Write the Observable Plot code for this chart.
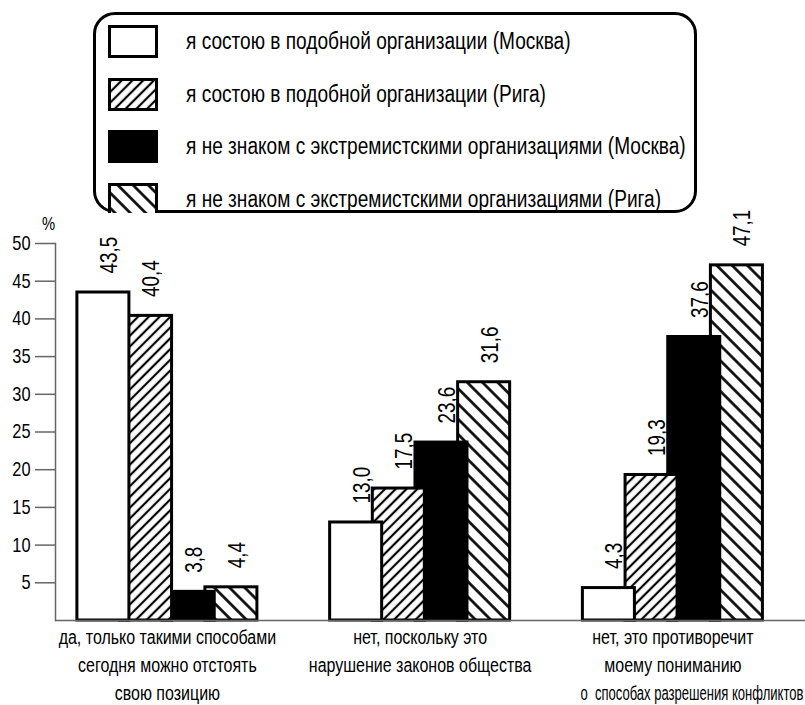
<!DOCTYPE html>
<html>
<head>
<meta charset="utf-8">
<script src="https://cdn.jsdelivr.net/npm/d3@7"></script>
<script src="https://cdn.jsdelivr.net/npm/@observablehq/plot@0.6"></script>
<style>
  html, body { margin: 0; padding: 0; background: #fff; }
  body { width: 805px; height: 705px; overflow: hidden; font-family: "Liberation Sans", Arial, sans-serif; }
  #legend { position: absolute; left: 93px; top: 12px; width: 604px; height: 201px; box-sizing: border-box;
            border: 3px solid #000; border-radius: 22px; background: #fff; }
  .row { position: absolute; left: 12px; height: 33px; display: flex; align-items: center; }
  .row svg { display: block; flex: none; }
  .row span { margin-left: 28px; font-size: 23px; color: #000; white-space: pre; display: inline-block;
              transform: scaleX(0.83); transform-origin: 0 50%; }
  #chart { position: absolute; left: 0; top: 213px; }
  #chart svg { display: block; overflow: visible; }
  #chart text { white-space: pre; }
</style>
</head>
<body>
<svg width="0" height="0" style="position:absolute">
  <defs>
    <pattern id="hatchA" patternUnits="userSpaceOnUse" width="7.6" height="7.6" patternTransform="rotate(45)">
      <rect width="7.6" height="7.6" fill="#fff"/>
      <line x1="3.8" y1="-1" x2="3.8" y2="8.6" stroke="#000" stroke-width="2.2"/>
    </pattern>
    <pattern id="hatchB" patternUnits="userSpaceOnUse" width="10.8" height="10.8" patternTransform="rotate(-45)">
      <rect width="10.8" height="10.8" fill="#fff"/>
      <line x1="5.4" y1="-1" x2="5.4" y2="11.8" stroke="#000" stroke-width="2.6"/>
    </pattern>
  </defs>
</svg>
<div id="legend"></div>
<div id="chart"></div>
<script>
// ---- data ----
const groups = [
  "да, только такими способами\nсегодня можно отстоять\nсвою позицию",
  "нет, поскольку это\nнарушение законов общества",
  "нет, это противоречит\nмоему пониманию\nо  способах разрешения конфликтов"
];
const seriesNames = [
  "я состою в подобной организации (Москва)",
  "я состою в подобной организации (Рига)",
  "я не знаком с экстремистскими организациями (Москва)",
  "я не знаком с экстремистскими организациями (Рига)"
];
const memberMoscow = [43.5, 13.0, 4.3];
const memberRiga = [40.4, 17.5, 19.3];
const unawareMoscow = [3.8, 23.6, 37.6];
const unawareRiga = [4.4, 31.6, 47.1];
const yTicks = [5, 10, 15, 20, 25, 30, 35, 40, 45, 50];

// ---- styles ----
const seriesValues = [memberMoscow, memberRiga, unawareMoscow, unawareRiga];
const fills = ["#fff", "url(#hatchA)", "#000", "url(#hatchB)"];
const FONT = '"Liberation Sans", Arial, sans-serif';
const NARROW = 0.82; // horizontal squeeze to imitate a narrow typeface

const rows = seriesValues.flatMap((vals, s) =>
  vals.map((v, g) => ({group: groups[g], series: seriesNames[s], s, value: v})));

// legend
const legend = document.getElementById("legend");
seriesNames.forEach((name, s) => {
  const row = document.createElement("div");
  row.className = "row";
  row.style.top = (10 + s * 52.7) + "px";
  row.innerHTML = `<svg width="50" height="33"><rect x="1.5" y="1.5" width="47" height="30" fill="${fills[s]}" stroke="#000" stroke-width="3"/></svg><span>${name}</span>`;
  legend.appendChild(row);
});

// chart geometry (band of 180px holding 4 overlapping bars 52px wide)
const BW = 180, BARW = 52, STEP = (BW - BARW) / 3;
const order = [3, 2, 1, 0];

const marks = [];
for (const s of order) {
  const data = rows.filter(d => d.s === s);
  marks.push(Plot.barY(data, {
    x: "group", y: "value", fill: fills[s], stroke: "#000", strokeWidth: 3,
    insetLeft: s * STEP, insetRight: BW - BARW - s * STEP
  }));
}
for (const s of order) {
  const data = rows.filter(d => d.s === s);
  marks.push(Plot.text(data, {
    x: "group", y: "value",
    text: d => d.value.toFixed(1).replace(".", ","),
    rotate: -90, textAnchor: "start", lineAnchor: "middle",
    dy: -19, dx: s * STEP + BARW / 2 - BW / 2 + 6,
    fontSize: 23, fill: "#000"
  }));
}

const chart = Plot.plot({
  width: 805,
  height: 492,
  marginLeft: 55,
  marginRight: 0,
  marginTop: 30,
  marginBottom: 85,
  style: {fontFamily: FONT, background: "#fff", color: "#000", overflow: "visible"},
  x: {domain: groups, range: [55, 784.3], paddingInner: 0.2878, paddingOuter: 0.0866, round: false, label: null},
  y: {domain: [0, 50], label: null},
  marks: [
    ...marks,
    Plot.ruleY([0], {stroke: "#666", strokeWidth: 1.5}),
    Plot.frame({anchor: "left", stroke: "#666", strokeWidth: 1.5}),
    Plot.axisY({ticks: yTicks, tickSize: 20, tickPadding: 5, stroke: "#666", strokeWidth: 1.5, fill: "#000", fontSize: 20, label: null}),
    Plot.axisX({tickSize: 0, tickPadding: 4, fontSize: 19.5, lineHeight: 1.43, fill: "#000", label: null}),
    Plot.text(["%"], {frameAnchor: "top-left", text: d => d, textAnchor: "middle", lineAnchor: "middle",
                      dx: -7, dy: -19, fontSize: 18, fill: "#000"})
  ]
});

// squeeze every text horizontally along its own direction (narrow-font look);
// only the horizontal x attribute would be affected by the scale, so fold it in.
chart.querySelectorAll("text").forEach(t => {
  let tr = t.getAttribute("transform") || "";
  const x = t.getAttribute("x");
  if (x != null && !isNaN(+x) && +x !== 0) {
    tr += ` translate(${x},0)`;
    t.removeAttribute("x");
  }
  t.setAttribute("transform", `${tr} scale(${NARROW},1)`);
});
// the long last line of the third category is set tighter and a little to the right, as in the source
chart.querySelectorAll("tspan").forEach(ts => {
  if (ts.textContent.startsWith("о ")) {
    ts.setAttribute("textLength", String(223 / NARROW));
    ts.setAttribute("lengthAdjust", "spacingAndGlyphs");
    ts.setAttribute("x", String(19 / NARROW));
  }
});
document.getElementById("chart").appendChild(chart);
</script>
</body>
</html>
